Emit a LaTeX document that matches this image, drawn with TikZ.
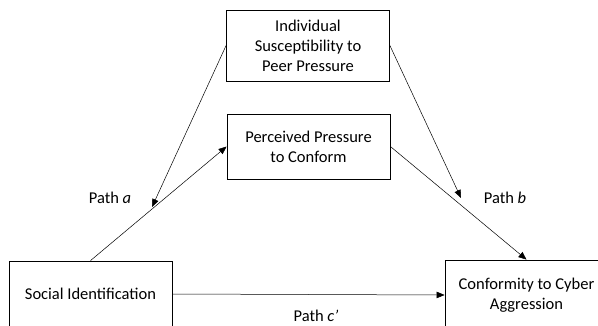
\documentclass[tikz,border=0pt]{standalone}
\usepackage{fontspec}
\setmainfont{Carlito}
\usetikzlibrary{arrows.meta}
\begin{document}
\begin{tikzpicture}[x=1pt,y=-1pt,thin,font=\fontsize{16.5}{20}\selectfont,
varblock/.style={draw,rectangle,thick,align=center,inner sep=2pt,minimum width=163pt},
pathline/.style={-{Triangle[length=8pt,width=6.5pt]},line width=0.5pt}]
\useasboundingbox (0,0) rectangle (598,326);
\clip (0,0) rectangle (598,326);
\draw (308,45.5) node[varblock,minimum height=71pt] (isp) {Individual\\Susceptibility to\\Peer Pressure};
\draw (308.5,146.5) node[varblock,minimum height=65pt] (ppc) {Perceived Pressure\\to Conform};
\draw (90.5,294) node[varblock,minimum height=66pt] (si) {Social Identification};
\draw (526.5,295) node[varblock,minimum height=70pt] (con) {Conformity to Cyber\\Aggression};
\coordinate (aend) at (152,207);
\coordinate (bend) at (461,198);

\draw[pathline] (si.north) -- (ppc.west);
\draw[pathline] (ppc.east) -- (con.north);
\draw[pathline] (si.east) -- (con.west);
\draw[pathline] (isp.west) -- (aend);
\draw[pathline] (isp.east) -- (bend);

\draw (110,198) node (patha) {Path \textit{a}};
\draw (505,198) node (pathb) {Path \textit{b}};
\draw (316,316) node (pathc) {Path \textit{c’}};
\end{tikzpicture}
\end{document}
